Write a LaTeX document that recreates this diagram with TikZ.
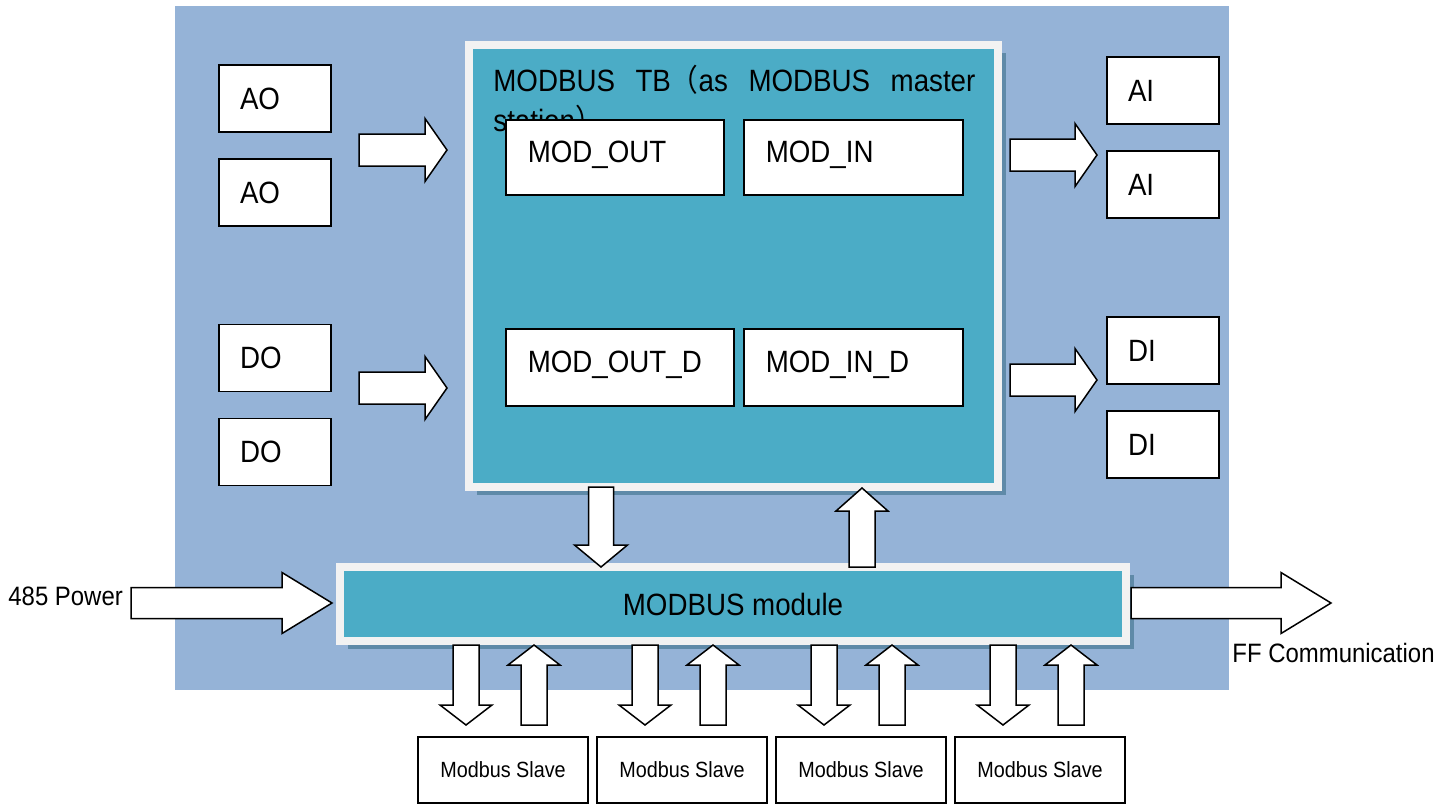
\documentclass[tikz,border=0pt]{standalone}
\usepackage{fontspec}
\setmainfont[FakeStretch=0.9]{Liberation Sans}
\newfontfamily\cjkfont[FakeStretch=0.9]{Noto Sans CJK SC}
\usetikzlibrary{calc,shadows}

\definecolor{bgblue}{HTML}{95B3D7}
\definecolor{tealfill}{HTML}{4BACC6}
\definecolor{rimgray}{HTML}{F2F2F2}
\definecolor{shadeblue}{HTML}{5F8AA8}

\newcommand{\bigfont}{\fontsize{15.4}{20}\selectfont}
\newcommand{\midfont}{\fontsize{13.3}{16}\selectfont}
\newcommand{\smallfont}{\fontsize{11}{13}\selectfont}
\newcommand{\titlefont}{\bigfont\hyphenpenalty=10000\relax\tolerance=9999\relax}

% block arrow: from, to, half shaft, half head, head length
\newcommand{\fatarrow}[5]{%
  \coordinate (fatbase) at ($(#2)!#5!(#1)$);
  \filldraw[blockarrow] ($(#1)!#3!90:(#2)$) -- ($(fatbase)!#3!90:(#2)$)
    -- ($(fatbase)!#4!90:(#2)$) -- (#2) -- ($(fatbase)!#4!-90:(#2)$)
    -- ($(fatbase)!#3!-90:(#2)$) -- ($(#1)!#3!-90:(#2)$) -- cycle;}

\tikzset{
  blockarrow/.style={fill=white, draw=black, line width=0.75pt, line join=miter},
  panel/.style={draw=rimgray, line width=4pt, fill=tealfill, inner sep=0pt,
    drop shadow={shadow xshift=4pt, shadow yshift=-4pt, fill=shadeblue, opacity=1}},
  iobox/.style={draw=black, line width=0.8pt, fill=white, minimum height=33.5pt,
    inner xsep=10.5pt, text width=35pt, align=left, font=\bigfont},
  modbox/.style={draw=black, line width=0.8pt, fill=white, anchor=north west,
    inner xsep=11pt, inner ysep=0pt, text height=10pt, text depth=5pt,
    align=left, font=\bigfont},
  slavebox/.style={draw=black, line width=0.8pt, fill=white, minimum width=85pt,
    minimum height=33pt, font=\smallfont},
}

\begin{document}
\begin{tikzpicture}[x=0.5pt, y=-0.5pt]
  \useasboundingbox (0,0) rectangle (1447,805);
  \fill[bgblue] (175,6) rectangle (1229,690);

  % transducer block
  \node[panel, minimum width=264.5pt, minimum height=221pt] (tb) at (733.5,266) {};
  \node[anchor=base west, inner sep=0pt, text width=241pt, align=justify,
    font=\titlefont] (title) at (493,91)
    {MODBUS TB{\cjkfont （}as MODBUS master station{\cjkfont ）}};

  \node[modbox, minimum width=109pt, minimum height=37.5pt, text width=87pt] (modout) at (505,119) {MOD\_OUT};
  \node[modbox, minimum width=109.5pt, minimum height=37.5pt, text width=87.5pt] (modin) at (743,119) {MOD\_IN};
  \node[modbox, minimum width=114pt, minimum height=38.5pt, text width=92pt] (modoutd) at (505,328) {MOD\_OUT\_D};
  \node[modbox, minimum width=109.5pt, minimum height=38.5pt, text width=87.5pt] (modind) at (743,328) {MOD\_IN\_D};

  % modbus module
  \node[panel, minimum width=393pt, minimum height=37pt, font=\bigfont] (module) at (733,604) {MODBUS module};

  % function blocks
  \node[iobox] (ao1) at (275,98.5) {AO};
  \node[iobox] (ao2) at (275,192.5) {AO};
  \node[iobox] (do1) at (275,358) {DO};
  \node[iobox] (do2) at (275,452) {DO};
  \node[iobox] (ai1) at (1163,90.5) {AI};
  \node[iobox] (ai2) at (1163,184.5) {AI};
  \node[iobox] (di1) at (1163,350.5) {DI};
  \node[iobox] (di2) at (1163,444.5) {DI};

  % arrows to and from the block
  \coordinate (aoA) at (359,150);  \coordinate (aoB) at (447,150);
  \coordinate (doA) at (359,388);  \coordinate (doB) at (447,388);
  \coordinate (aiA) at (1010,155); \coordinate (aiB) at (1097,155);
  \coordinate (diA) at (1010,380); \coordinate (diB) at (1097,380);
  \fatarrow{aoA}{aoB}{8pt}{15.75pt}{11pt}
  \fatarrow{doA}{doB}{8pt}{15.75pt}{11pt}
  \fatarrow{aiA}{aiB}{8pt}{15.75pt}{11pt}
  \fatarrow{diA}{diB}{8pt}{15.75pt}{11pt}

  \coordinate (tbDown) at (601,487); \coordinate (modTop) at (601,567);
  \coordinate (modUp) at (862,567);  \coordinate (tbBot) at (862,488);
  \fatarrow{tbDown}{modTop}{6.25pt}{13.25pt}{11pt}
  \fatarrow{modUp}{tbBot}{6.5pt}{13pt}{11.5pt}

  % power in, FF out
  \coordinate (pwrA) at (131,603); \coordinate (pwrB) at (332,603);
  \coordinate (ffA) at (1131,603); \coordinate (ffB) at (1331,603);
  \fatarrow{pwrA}{pwrB}{7.75pt}{15.25pt}{25pt}
  \fatarrow{ffA}{ffB}{7.75pt}{15.25pt}{25pt}
  \node[anchor=base west, inner sep=0pt, font=\midfont] (pwr) at (8,605) {485 Power};
  \node[anchor=base west, inner sep=0pt, font=\midfont] (ff) at (1232,662) {FF Communication};

  % slaves
  \foreach \i in {0,...,3}{
    \node[slavebox] (slave\i) at ({503+179*\i},770) {Modbus Slave};
    \coordinate (dnA\i) at ({466+179*\i},645); \coordinate (dnB\i) at ({466+179*\i},725);
    \coordinate (upA\i) at ({534+179*\i},725); \coordinate (upB\i) at ({534+179*\i},645);
    \fatarrow{dnA\i}{dnB\i}{6.5pt}{13pt}{10pt}
    \fatarrow{upA\i}{upB\i}{6.5pt}{13pt}{10pt}
  }
\end{tikzpicture}
\end{document}
